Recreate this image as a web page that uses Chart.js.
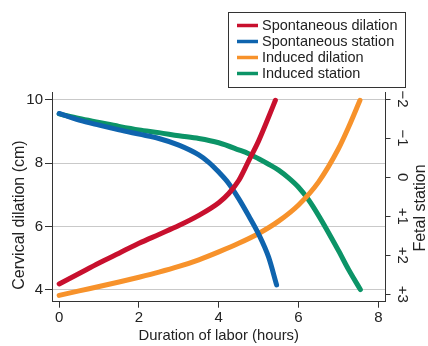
<!DOCTYPE html>
<html>
<head>
<meta charset="utf-8">
<script src="https://cdn.jsdelivr.net/npm/chart.js@4/dist/chart.umd.min.js"></script>
<style>
  html, body { margin: 0; padding: 0; background: #fff; }
  #wrap { width: 428px; height: 346px; }
</style>
</head>
<body>
<div id="wrap"><canvas id="labor" width="428" height="346"></canvas></div>
<script>
// Axis ticks
const hourTicks = [0, 2, 4, 6, 8];
const dilationTicks = [4, 6, 8, 10];
const stationTicks = [-2, -1, 0, 1, 2, 3];
const stationTickLabels = ['\u22122', '\u22121', '0', '+1', '+2', '+3'];

// Series labels
const seriesNames = ['Spontaneous dilation', 'Spontaneous station', 'Induced dilation', 'Induced station'];

// Spontaneous labor: cervical dilation (cm)
const spontDilationHours = [0, 0.5, 1, 1.5, 2, 2.5, 3, 3.5, 4, 4.25, 4.5, 4.75, 5, 5.25, 5.42];
const spontDilationCm    = [4.19, 4.52, 4.85, 5.16, 5.47, 5.75, 6.03, 6.35, 6.75, 7.04, 7.45, 8.07, 8.7, 9.45, 9.98];

// Spontaneous labor: fetal station
const spontStationHours = [0, 0.5, 1, 1.5, 2, 2.5, 3, 3.5, 3.75, 4, 4.25, 4.5, 4.75, 5, 5.25, 5.45];
const spontStation      = [-1.63, -1.46, -1.33, -1.21, -1.1, -0.99, -0.82, -0.57, -0.38, -0.13, 0.16, 0.55, 0.99, 1.46, 2.05, 2.76];

// Induced labor: cervical dilation (cm)
const indDilationHours = [0, 0.5, 1, 1.5, 2, 2.5, 3, 3.5, 4, 4.5, 5, 5.5, 6, 6.5, 7, 7.25, 7.54];
const indDilationCm    = [3.83, 3.97, 4.11, 4.25, 4.4, 4.56, 4.74, 4.95, 5.2, 5.47, 5.78, 6.17, 6.68, 7.4, 8.45, 9.12, 9.98];

// Induced labor: fetal station
const indStationHours = [0, 0.5, 1, 1.5, 2, 2.5, 3, 3.5, 4, 4.5, 4.75, 5, 5.25, 5.5, 5.75, 6, 6.25, 6.5, 7, 7.25, 7.55];
const indStation      = [-1.62, -1.5, -1.4, -1.3, -1.21, -1.14, -1.06, -0.99, -0.88, -0.7, -0.6, -0.47, -0.33, -0.18, 0.02, 0.26, 0.58, 0.98, 1.88, 2.36, 2.88];

const FONT = '"Liberation Sans", Arial, Helvetica, sans-serif';
const INK = '#222';
const AXIS = '#333';

const toPoints = (xs, ys) => xs.map((x, i) => ({ x: x, y: ys[i] }));

function curve(label, color, points, axis) {
  return {
    label: label,
    data: points,
    yAxisID: axis,
    borderColor: color,
    backgroundColor: color,
    borderWidth: 5,
    borderCapStyle: 'round',
    borderJoinStyle: 'round',
    pointRadius: 0,
    pointHoverRadius: 0,
    fill: false,
    cubicInterpolationMode: 'monotone'
  };
}

// Legend box, axis titles and rotated station labels
const decorations = {
  id: 'decorations',
  afterDraw(chart) {
    const ctx = chart.ctx;
    const area = chart.chartArea;
    ctx.save();

    // legend
    ctx.strokeStyle = AXIS;
    ctx.lineWidth = 1;
    ctx.strokeRect(228.5, 12.5, 177, 75);
    ctx.font = '14.5px ' + FONT;
    ctx.textBaseline = 'middle';
    ctx.textAlign = 'left';
    chart.data.datasets.forEach((ds, i) => {
      const y = 25.5 + 16 * i;
      ctx.strokeStyle = ds.borderColor;
      ctx.lineWidth = 3.5;
      ctx.lineCap = 'butt';
      ctx.beginPath();
      ctx.moveTo(237, y);
      ctx.lineTo(258, y);
      ctx.stroke();
      ctx.fillStyle = INK;
      ctx.fillText(ds.label, 262, y + 0.5);
    });

    // x title
    ctx.fillStyle = INK;
    ctx.textAlign = 'center';
    ctx.font = '14.8px ' + FONT;
    ctx.fillText('Duration of labor (hours)', (area.left + area.right) / 2, 336);

    // left title
    ctx.font = '16px ' + FONT;
    ctx.save();
    ctx.translate(20, 215);
    ctx.rotate(-Math.PI / 2);
    ctx.fillText('Cervical dilation (cm)', 0, 0);
    ctx.restore();

    // right title
    ctx.save();
    ctx.translate(421, 208);
    ctx.rotate(-Math.PI / 2);
    ctx.fillText('Fetal station', 0, 0);
    ctx.restore();

    // right tick labels, rotated clockwise
    const st = chart.scales.y1;
    ctx.font = '15px ' + FONT;
    stationTicks.forEach((v, i) => {
      const y = st.getPixelForValue(v);
      ctx.save();
      ctx.translate(402, y);
      ctx.rotate(Math.PI / 2);
      ctx.fillText(stationTickLabels[i], 0, 0);
      ctx.restore();
    });

    ctx.restore();
  }
};

new Chart(document.getElementById('labor'), {
  type: 'line',
  data: {
    datasets: [
      curve(seriesNames[0], '#c8102e', toPoints(spontDilationHours, spontDilationCm), 'y'),
      curve(seriesNames[1], '#0f64ae', toPoints(spontStationHours, spontStation), 'y1'),
      curve(seriesNames[2], '#f7922b', toPoints(indDilationHours, indDilationCm), 'y'),
      curve(seriesNames[3], '#0c9467', toPoints(indStationHours, indStation), 'y1')
    ]
  },
  options: {
    responsive: false,
    animation: false,
    devicePixelRatio: 1,
    layout: { padding: { top: 92, left: 0, right: 0, bottom: 0 } },
    plugins: {
      legend: { display: false },
      tooltip: { enabled: false },
      title: { display: false }
    },
    scales: {
      x: {
        type: 'linear',
        min: -0.18,
        max: 8.18,
        afterBuildTicks: s => { s.ticks = hourTicks.map(v => ({ value: v })); },
        afterFit: s => { s.height = 44.3; },
        border: { color: AXIS, width: 1 },
        grid: { drawOnChartArea: false, drawTicks: true, tickLength: 6, tickColor: AXIS, tickWidth: 1 },
        ticks: { color: INK, font: { family: FONT, size: 15 }, padding: 1, maxRotation: 0 }
      },
      y: {
        type: 'linear',
        position: 'left',
        min: 3.63,
        max: 10.24,
        afterBuildTicks: s => { s.ticks = dilationTicks.map(v => ({ value: v })); },
        afterFit: s => { s.width = 52; },
        border: { color: AXIS, width: 1 },
        grid: { color: '#c9c9c9', lineWidth: 1, tickLength: 7, tickColor: AXIS, tickWidth: 1 },
        ticks: { color: INK, font: { family: FONT, size: 15 }, padding: 2 }
      },
      y1: {
        type: 'linear',
        position: 'right',
        reverse: true,
        min: -2.18,
        max: 3.19,
        afterBuildTicks: s => { s.ticks = stationTicks.map(v => ({ value: v })); },
        afterFit: s => { s.width = 42.5; },
        border: { color: AXIS, width: 1 },
        grid: { drawOnChartArea: false, tickLength: 5, tickColor: AXIS, tickWidth: 1 },
        ticks: { callback: () => '', font: { family: FONT, size: 15 } }
      }
    }
  },
  plugins: [decorations]
});
</script>
</body>
</html>
